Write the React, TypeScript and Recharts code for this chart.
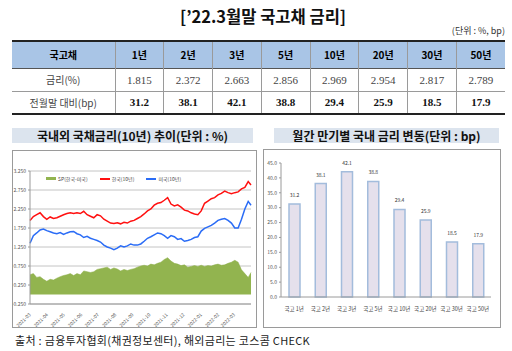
import {
  ComposedChart, Area, Line, XAxis, YAxis, CartesianGrid, Legend,
  BarChart, Bar, LabelList,
} from 'recharts';

// table / bar data
const tenors = ['1년', '2년', '3년', '5년', '10년', '20년', '30년', '50년'];
const rates = ['1.815', '2.372', '2.663', '2.856', '2.969', '2.954', '2.817', '2.789'];
const bpChange = [31.2, 38.1, 42.1, 38.8, 29.4, 25.9, 18.5, 17.9];
const barTicks = [0, 5, 10, 15, 20, 25, 30, 35, 40, 45];

// 10y rate history, x = days since 2021-03-01
const monthDays = [0, 31, 61, 92, 122, 153, 184, 214, 245, 275, 306, 337, 365];
const monthLabels = ['2021-03', '2021-04', '2021-05', '2021-06', '2021-07', '2021-08', '2021-09',
  '2021-10', '2021-11', '2021-12', '2022-01', '2022-02', '2022-03'];
const rateTicks = [-0.25, 0.25, 0.75, 1.25, 1.75, 2.25, 2.75, 3.25];
const sampleDays = [0, 6, 12, 18, 24, 30, 36, 42, 48, 54, 60, 66, 72, 78, 84, 90, 96, 102, 108, 114,
  120, 126, 132, 138, 144, 150, 156, 162, 168, 174, 180, 186, 192, 198, 204, 210, 216, 222, 228, 234,
  240, 246, 252, 258, 264, 270, 276, 282, 288, 294, 300, 306, 312, 318, 324, 330, 336, 342, 348, 354,
  360, 366, 372, 378, 384, 390, 395];
const korea10y = [1.95, 2.05, 2.10, 2.15, 2.05, 1.98, 2.04, 2.00, 2.02, 2.06,
  2.10, 2.13, 2.15, 2.13, 2.15, 2.13, 2.19, 2.10, 2.06, 2.02,
  2.10, 2.07, 1.98, 1.93, 1.88, 1.87, 1.89, 1.86, 1.90, 1.88,
  1.93, 1.95, 2.00, 2.05, 2.12, 2.20, 2.25, 2.35, 2.40, 2.42,
  2.48, 2.55, 2.38, 2.33, 2.36, 2.30, 2.22, 2.20, 2.15, 2.12,
  2.10, 2.20, 2.40, 2.46, 2.52, 2.55, 2.62, 2.66, 2.72, 2.68,
  2.65, 2.68, 2.70, 2.78, 2.82, 2.97, 2.88];
const us10y = [1.35, 1.55, 1.62, 1.70, 1.72, 1.68, 1.65, 1.62, 1.60, 1.63,
  1.58, 1.62, 1.65, 1.66, 1.60, 1.57, 1.50, 1.53, 1.48, 1.45,
  1.42, 1.38, 1.30, 1.25, 1.22, 1.18, 1.22, 1.28, 1.25, 1.28,
  1.33, 1.30, 1.30, 1.33, 1.40, 1.48, 1.52, 1.57, 1.62, 1.60,
  1.55, 1.48, 1.55, 1.52, 1.45, 1.47, 1.40, 1.42, 1.45, 1.50,
  1.52, 1.67, 1.74, 1.78, 1.82, 1.88, 1.95, 1.98, 2.00, 1.95,
  1.88, 1.75, 1.75, 1.98, 2.25, 2.45, 2.35];
const spread = [0.52, 0.55, 0.45, 0.47, 0.40, 0.35, 0.40, 0.38, 0.43, 0.47,
  0.50, 0.52, 0.55, 0.50, 0.55, 0.52, 0.62, 0.60, 0.58, 0.60,
  0.66, 0.68, 0.70, 0.72, 0.66, 0.70, 0.67, 0.62, 0.66, 0.63,
  0.66, 0.68, 0.72, 0.75, 0.77, 0.75, 0.80, 0.78, 0.82, 0.85,
  0.92, 0.97, 0.88, 0.82, 0.80, 0.76, 0.78, 0.72, 0.74, 0.76,
  0.74, 0.77, 0.74, 0.76, 0.75, 0.78, 0.80, 0.77, 0.78, 0.82,
  0.85, 0.90, 0.85, 0.65, 0.55, 0.45, 0.58];

const rateRows = sampleDays.map((d, i) => ({ day: d, kr: korea10y[i], us: us10y[i], sp: spread[i] }));
const barRows = tenors.map((t, i) => ({ name: '국고 ' + t, value: bpChange[i] }));

const KR = '"Noto Sans CJK KR", "Noto Sans", sans-serif';
const SERIF = '"Liberation Serif", "Noto Sans CJK KR", serif';

const legendItems = [
  { label: 'SP(한국-미국)', color: '#92b44f', kind: 'rect' },
  { label: '한국(10년)', color: '#ff1010', kind: 'line' },
  { label: '미국(10년)', color: '#2a6cf6', kind: 'line' },
];

function RateLegend() {
  return (
    <div style={{ display: 'flex', gap: 12, fontSize: 5, color: '#444', fontFamily: KR }}>
      {legendItems.map((it) => (
        <div key={it.label} style={{ display: 'flex', alignItems: 'center', gap: 2 }}>
          <span style={{
            display: 'inline-block', width: 10, height: it.kind === 'rect' ? 3 : 2, background: it.color,
          }} />
          <span>{it.label}</span>
        </div>
      ))}
    </div>
  );
}

function MonthTick(props: any) {
  const { x, y, payload } = props;
  const idx = monthDays.indexOf(payload.value);
  return (
    <text x={x} y={y + 2} transform={`rotate(-45, ${x}, ${y + 2})`} textAnchor="end"
      fontSize={4.8} fill="#555" fontFamily={KR} dy={1.5}>
      {monthLabels[idx]}
    </text>
  );
}

const cell: React.CSSProperties = { textAlign: 'center', padding: 0, borderLeft: '1px solid #9a9a9a' };

export default function App() {
  return (
    <div style={{ position: 'absolute', left: 0, top: 0, width: 512, height: 351, background: '#fff', fontFamily: KR, overflow: 'hidden' }}>
      <div style={{ position: 'absolute', left: 130, top: 4, width: 266, textAlign: 'center', fontSize: 16.5, fontWeight: 700, color: '#111' }}>
        [’22.3월말 국고채 금리]
      </div>
      <div style={{ position: 'absolute', right: 7, top: 24, fontSize: 9, color: '#333' }}>(단위 : %, bp)</div>

      <table style={{ position: 'absolute', left: 12, top: 40, width: 493, borderCollapse: 'collapse', tableLayout: 'fixed', fontSize: 10 }}>
        <colgroup>
          <col style={{ width: 103 }} />
          {tenors.map((t) => <col key={t} style={{ width: 48.75 }} />)}
        </colgroup>
        <tbody>
          <tr style={{ height: 27, background: '#a9c5e6', borderTop: '2px solid #222', borderBottom: '1px solid #555' }}>
            <td style={{ ...cell, borderLeft: 'none', fontWeight: 700 }}>국고채</td>
            {tenors.map((t) => <td key={t} style={{ ...cell, fontWeight: 700 }}>{t}</td>)}
          </tr>
          <tr style={{ height: 23, borderBottom: '1px solid #9a9a9a' }}>
            <td style={{ ...cell, borderLeft: 'none', color: '#444' }}>금리(%)</td>
            {rates.map((r, i) => <td key={i} style={{ ...cell, fontFamily: SERIF, fontSize: 11, color: '#444' }}>{r}</td>)}
          </tr>
          <tr style={{ height: 23, borderBottom: '2px solid #222' }}>
            <td style={{ ...cell, borderLeft: 'none', color: '#444' }}>전월말 대비(bp)</td>
            {bpChange.map((v, i) => <td key={i} style={{ ...cell, fontFamily: SERIF, fontSize: 11, fontWeight: 700, color: '#111' }}>{v.toFixed(1)}</td>)}
          </tr>
        </tbody>
      </table>

      <div style={{ position: 'absolute', left: 12, top: 128, width: 241, height: 15, background: '#dce4ee', textAlign: 'center', fontSize: 12, fontWeight: 700, lineHeight: '15px', color: '#111', whiteSpace: 'nowrap' }}>
        국내외 국채금리(10년) 추이(단위 : %)
      </div>
      <div style={{ position: 'absolute', left: 274, top: 128, width: 225, height: 15, background: '#dce4ee', textAlign: 'center', fontSize: 12, fontWeight: 700, lineHeight: '15px', color: '#111', whiteSpace: 'nowrap' }}>
        월간 만기별 국내 금리 변동(단위 : bp)
      </div>

      <div style={{ position: 'absolute', left: 12, top: 150, width: 245, height: 178, border: '1px solid #9a9a9a', boxSizing: 'border-box' }}>
        <ComposedChart width={243} height={176} data={rateRows} margin={{ top: 13, right: 5, left: 0, bottom: 0 }}
          style={{ overflow: 'visible' }}>
          <CartesianGrid vertical={false} stroke="#c4c4c4" />
          <XAxis dataKey="day" type="number" domain={[0, 395]} ticks={monthDays} height={23}
            tick={<MonthTick />} tickLine={false} axisLine={{ stroke: '#9a9a9a' }} interval={0} />
          <YAxis domain={[-0.25, 3.25]} ticks={rateTicks} width={17} interval={0}
            tick={{ fontSize: 5, fill: '#555' }} tickSize={2} tickLine={{ stroke: '#9a9a9a' }}
            axisLine={{ stroke: '#9a9a9a' }} tickFormatter={(v: number) => v.toFixed(3)} />
          <Legend verticalAlign="top" align="left" content={<RateLegend />}
            wrapperStyle={{ top: 24, left: 33, width: 'auto' }} />
          <Area dataKey="sp" type="linear" baseValue={0} fill="#92b44f" fillOpacity={1} stroke="#8aad47"
            strokeWidth={0.5} isAnimationActive={false} dot={false} />
          <Line dataKey="kr" type="linear" stroke="#ff1010" strokeWidth={1.5} dot={false} isAnimationActive={false} />
          <Line dataKey="us" type="linear" stroke="#2a6cf6" strokeWidth={1.5} dot={false} isAnimationActive={false} />
        </ComposedChart>
      </div>

      <div style={{ position: 'absolute', left: 263, top: 149, width: 238, height: 179, border: '1px solid #9a9a9a', boxSizing: 'border-box' }}>
        <BarChart width={236} height={177} data={barRows} margin={{ top: 13, right: 9, left: 0, bottom: 0 }}>
          <XAxis dataKey="name" height={30} interval={0} tickLine={false} tickMargin={4}
            tick={{ fontSize: 5.5, fill: '#444' }} axisLine={{ stroke: '#9a9a9a' }} />
          <YAxis domain={[0, 45]} ticks={barTicks} width={17} interval={0}
            tick={{ fontSize: 5, fill: '#555' }} tickSize={2} tickLine={{ stroke: '#9a9a9a' }}
            axisLine={{ stroke: '#9a9a9a' }} tickFormatter={(v: number) => v.toFixed(1)} />
          <Bar dataKey="value" barSize={11} fill="#e5e0ec" stroke="#a3bcdc" strokeWidth={1.5} isAnimationActive={false}>
            <LabelList dataKey="value" position="top" offset={7} fontSize={5} fill="#333"
              formatter={(v: any) => Number(v).toFixed(1)} />
          </Bar>
        </BarChart>
      </div>

      <div style={{ position: 'absolute', left: 15, top: 332, fontSize: 11, color: '#222', whiteSpace: 'nowrap', letterSpacing: 0.3 }}>
        출처 : 금융투자협회(채권정보센터), 해외금리는 코스콤 CHECK
      </div>
    </div>
  );
}
